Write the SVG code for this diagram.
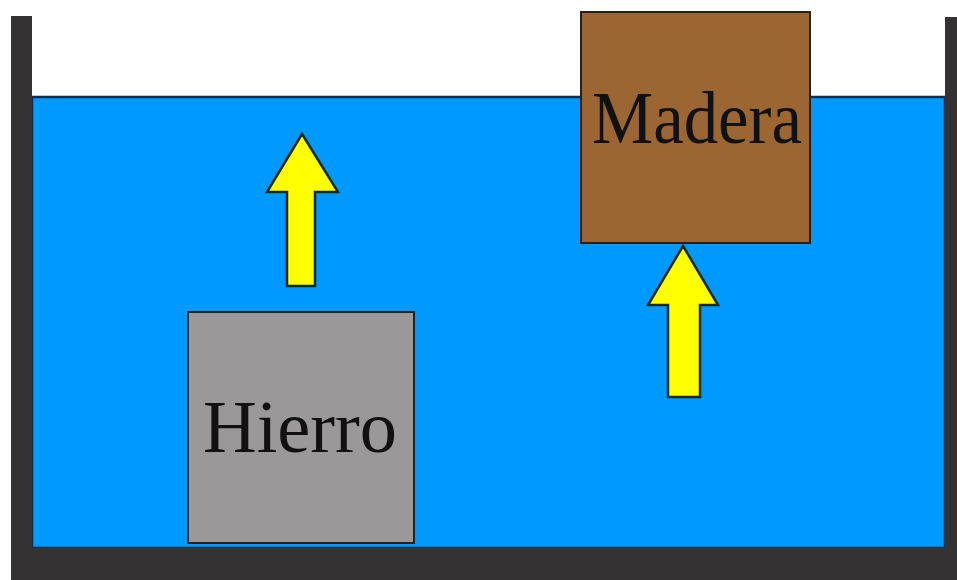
<svg xmlns="http://www.w3.org/2000/svg" width="957" height="580" viewBox="0 0 957 580">
<style>
.wall{fill:#353233}
.arrow{fill:#FFFF00;stroke:#1a2a1a;stroke-width:2.5;stroke-linejoin:miter}
.box{stroke:#222;stroke-width:2}
.lbl{font-family:"Liberation Serif","Times New Roman",serif;font-size:73px;fill:#111;text-anchor:middle}
</style>
<rect width="957" height="580" fill="#ffffff"/>
<g id="tank">
<rect id="water" x="32" y="97" width="913" height="451" fill="#0099FF" stroke="#0a3050" stroke-width="2.5"/>
<rect class="wall" x="11" y="16" width="21" height="564"/>
<rect class="wall" x="945" y="17" width="14" height="563"/>
<rect class="wall" x="11" y="548" width="948" height="32"/>
</g>
<g id="hierro">
<rect class="box" x="188" y="312" width="226" height="231" fill="#9A9899"/>
<text class="lbl" x="300" y="452" textLength="194" lengthAdjust="spacingAndGlyphs">Hierro</text>
</g>
<g id="madera">
<rect class="box" x="581" y="12" width="229" height="231" fill="#9C6633"/>
<text class="lbl" x="697" y="143" textLength="210" lengthAdjust="spacingAndGlyphs">Madera</text>
</g>
<g id="connectors">
<polygon id="arrow-hierro" class="arrow" points="302,134 338,192 315,192 315,286 287,286 287,192 267,192"/>
<polygon id="arrow-madera" class="arrow" points="683,246 718,305 700,305 700,397 668,397 668,305 648,305"/>
</g>
</svg>
